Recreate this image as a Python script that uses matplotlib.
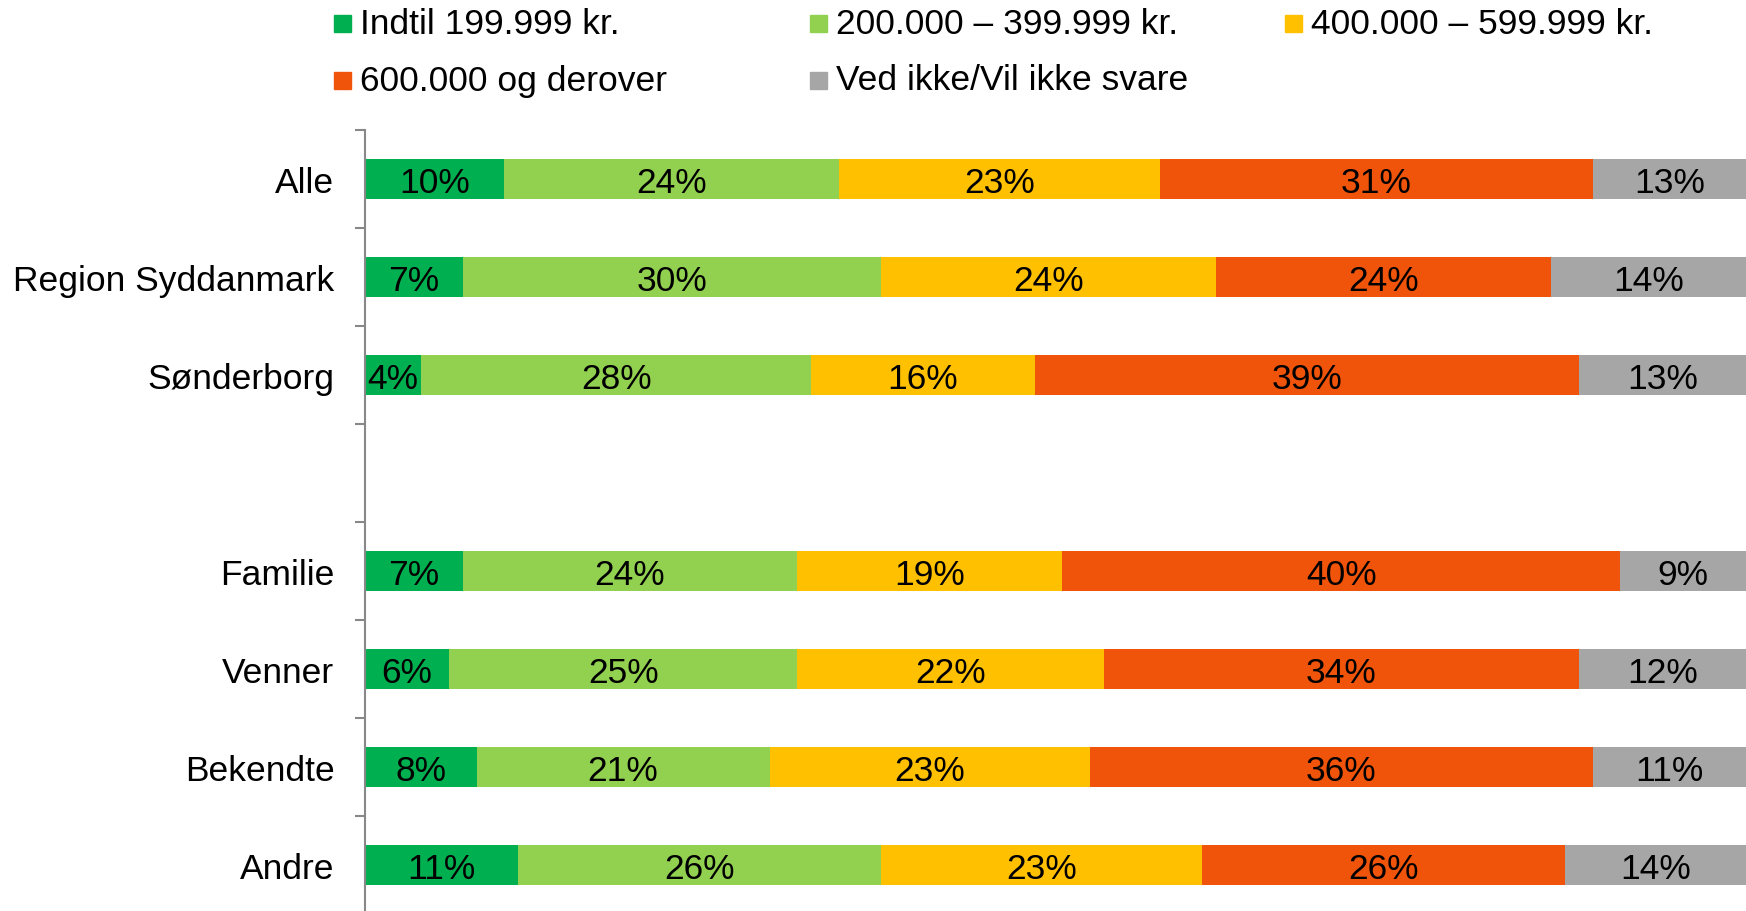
import matplotlib.pyplot as plt
from matplotlib.patches import Rectangle

plt.rcParams['font.family'] = ['Liberation Sans', 'DejaVu Sans']

categories = ['Alle', 'Region Syddanmark', 'Sønderborg', '', 'Familie', 'Venner', 'Bekendte', 'Andre']
series = ['Indtil 199.999 kr.', '200.000 – 399.999 kr.', '400.000 – 599.999 kr.',
          '600.000 og derover', 'Ved ikke/Vil ikke svare']
colors = ['#00B050', '#92D050', '#FFC000', '#F0530A', '#A6A6A6']

# None = empty spacer row
under_200k = [10, 7, 4, None, 7, 6, 8, 11]
k200_399 = [24, 30, 28, None, 24, 25, 21, 26]
k400_599 = [23, 24, 16, None, 19, 22, 23, 23]
over_600k = [31, 24, 39, None, 40, 34, 36, 26]
dont_know = [13, 14, 13, None, 9, 12, 11, 14]
values = [under_200k, k200_399, k400_599, over_600k, dont_know]

fs = 25.5
W, H = 1746, 912
fig = plt.figure(figsize=(W / 100, H / 100), dpi=100)
ax = fig.add_axes([365 / W, -3 / H, (W - 365) / W, (915 - 131) / H])

rows = [i for i, c in enumerate(categories) if under_200k[i] is not None]
left = [0] * len(rows)
for vals, col in zip(values, colors):
    w = [vals[i] for i in rows]
    bars = ax.barh(rows, w, left=left, height=0.41, color=col, linewidth=0)
    txts = ax.bar_label(bars, labels=['%d%%' % v for v in w], label_type='center',
                        fontsize=fs, color='black')
    for t in txts:
        t.set_va('center_baseline')
    left = [a + b for a, b in zip(left, w)]

ax.set_xlim(0, 99)
ax.set_ylim(len(categories) - 0.5, -0.5)
ax.set_xticks([])
for s in ['top', 'right', 'bottom']:
    ax.spines[s].set_visible(False)
ax.spines['left'].set_color('#888888')
ax.spines['left'].set_linewidth(1.5)

ax.set_yticks([i - 0.5 for i in range(len(categories) + 1)])
ax.set_yticklabels([])
ax.tick_params(axis='y', which='major', length=7.2, width=1.5, color='#888888')
ax.set_yticks(range(len(categories)), minor=True)
ax.set_yticklabels(categories, minor=True, fontsize=fs)
ax.tick_params(axis='y', which='minor', length=0, pad=22)

# legend
col_x = [334, 810, 1285]
row_y = [24, 81]
sq = 17
for k, (name, col) in enumerate(zip(series, colors)):
    r, c = divmod(k, 3)
    x, y = col_x[c], row_y[r]
    fig.patches.append(Rectangle((x / W, 1 - (y + sq / 2) / H), sq / W, sq / H,
                                 transform=fig.transFigure, color=col))
    fig.text((x + sq + 9) / W, 1 - y / H, name, fontsize=fs, va='center', ha='left')

fig.savefig('out.png', dpi=100)
